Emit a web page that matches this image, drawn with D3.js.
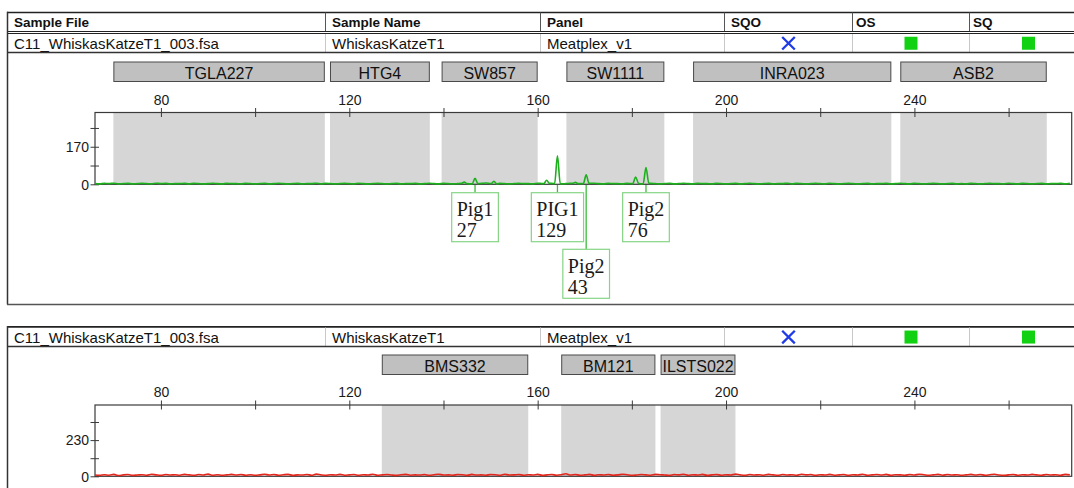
<!DOCTYPE html>
<html>
<head>
<meta charset="utf-8">
<script src="https://cdn.jsdelivr.net/npm/d3@7"></script>
<style>
  html, body { margin: 0; padding: 0; background: #fff; }
  svg { display: block; }
</style>
</head>
<body>
<svg id="chart" width="1074" height="488"></svg>
<script>
// ---- sample table ----
const headerCols = ["Sample File", "Sample Name", "Panel", "SQO", "OS", "SQ"];
const sampleFile = "C11_WhiskasKatzeT1_003.fsa";
const sampleName = "WhiskasKatzeT1";
const panelName = "Meatplex_v1";

// ---- size axis (bp) ----
const sizeDomain = [66, 273.4];
const sizeTicks = [80, 100, 120, 140, 160, 180, 200, 220, 240, 260];
const sizeTickLabels = [80, 120, 160, 200, 240];

// ---- dye 1 (green) ----
const topBinNames = ["TGLA227", "HTG4", "SW857", "SW1111", "INRA023", "ASB2"];
const topBinStart = [69.9, 115.9, 139.6, 166.1, 193.0, 237.0];
const topBinEnd   = [114.8, 137.1, 160.0, 186.9, 235.1, 268.1];
const topMax = 325;
const topYTicks = [0, 85, 170, 255];
const topYLabels = [0, 170];
const alleleNames  = ["Pig1", "PIG1", "Pig2", "Pig2"];
const allelePos    = [146.7, 164.2, 170.3, 183.0];
const alleleHeight = [27, 129, 43, 76];
const minorPeakPos    = [144.4, 150.7, 161.9, 168.0, 180.8];
const minorPeakHeight = [10, 14, 18, 9, 33];
// baseline signal, one value per bp starting at 66 bp
const topNoise = [
  3,2,4,3,5,2,3,4,2,3, 4,3,2,5,3,4,2,3,3,4,
  2,4,3,2,3,5,3,2,4,3, 3,2,4,3,2,3,4,2,3,5,
  3,2,3,4,2,3,3,5,2,4, 3,2,3,4,3,2,5,3,2,3,
  4,3,2,3,4,2,3,3,4,2, 3,5,3,2,4,3,2,3,4,3,
  2,3,4,6,3,2,4,3,2,3, 4,3,3,2,5,3,2,4,3,2,
  3,4,2,3,3,4,5,3,2,4, 3,3,2,4,3,5,2,3,4,3,
  2,3,4,2,3,5,3,2,4,3, 3,2,4,3,2,3,4,2,3,5,
  3,2,3,4,2,3,3,5,2,4, 3,2,3,4,3,2,5,3,2,3,
  4,3,2,3,4,2,3,3,4,2, 3,5,3,2,4,3,2,3,4,3,
  2,3,4,2,3,2,4,3,2,3, 4,3,3,2,5,3,2,4,3,2,
  3,4,2,3,3,4,2,5
];

// ---- dye 2 (red) ----
const bottomBinNames = ["BMS332", "BM121", "ILSTS022"];
const bottomBinStart = [126.9, 165.0, 186.1];
const bottomBinEnd   = [158.0, 185.0, 202.0];
const bottomMax = 453;
const bottomYTicks = [0, 115, 230, 345];
const bottomYLabels = [0, 230];
const bottomNoise = [
  8,6,10,7,12,5,9,11,6,8, 10,7,13,9,6,11,8,10,7,12,
  9,6,11,8,14,7,10,6,9,12, 8,11,7,10,6,9,13,8,11,7,
  10,12,6,9,8,11,7,14,9,6, 10,8,12,7,9,11,6,10,8,13,
  7,9,11,8,6,10,12,7,9,8, 11,6,10,13,8,9,7,11,10,6,
  12,8,9,7,11,10,6,13,8,9, 11,7,10,8,12,6,9,11,7,10,
  16,8,11,7,9,12,6,10,8,11, 7,9,13,10,6,8,11,9,7,12,
  10,8,6,11,9,13,7,10,8,12, 6,9,11,7,10,8,14,9,6,11,
  8,10,7,12,9,6,11,8,10,7, 13,9,11,6,10,8,12,7,9,11,
  6,10,8,13,7,9,11,8,12,6, 10,9,7,11,8,13,10,6,9,12,
  7,11,8,10,6,9,12,8,11,7, 10,13,8,6,9,11,7,10,8,12,
  9,7,11,8,10,6,12,9
];

// ------------------------------------------------------------------
const svg = d3.select("#chart");
const W = 1074;
const SANS = "'Liberation Sans', Arial, sans-serif";
const SERIF = "'Liberation Serif', 'Times New Roman', serif";

const colX = [7.5, 325.5, 540.5, 724.5, 852.5, 969.5];
const colTextX = [14, 332, 547, 731, 856, 973];

const x = d3.scaleLinear().domain(sizeDomain).range([95, 1071.7]);

function hline(g, yy, x1, x2, stroke, w) {
  g.append("line").attr("x1", x1).attr("x2", x2).attr("y1", yy).attr("y2", yy)
    .attr("stroke", stroke).attr("stroke-width", w);
}
function vline(g, xx, y1, y2, stroke, w) {
  g.append("line").attr("x1", xx).attr("x2", xx).attr("y1", y1).attr("y2", y2)
    .attr("stroke", stroke).attr("stroke-width", w);
}

// data row: file, name, panel, SQO cross, OS/SQ flags
function dataRow(g, rTop, rBottom) {
  const base = rBottom - 3.6;
  [sampleFile, sampleName, panelName].forEach((t, i) => {
    g.append("text").attr("x", colTextX[i]).attr("y", base)
      .attr("font-family", SANS).attr("font-size", 15).attr("fill", "#111").text(t);
  });
  for (let i = 1; i < colX.length; i++) vline(g, colX[i], rTop, rBottom, "#c8c8c8", 1);
  const cy = (rTop + rBottom) / 2;
  const cx = (colX[3] + colX[4]) / 2;
  const s = 6.3;
  g.append("path")
    .attr("d", `M${cx - s},${cy - s}L${cx + s},${cy + s}M${cx + s},${cy - s}L${cx - s},${cy + s}`)
    .attr("stroke", "#1f3be6").attr("stroke-width", 2.3).attr("fill", "none");
  const flagCx = [(colX[4] + colX[5]) / 2, colX[5] + 59];
  flagCx.forEach(fx => {
    g.append("rect").attr("x", fx - 6.5).attr("y", cy - 6.5).attr("width", 13).attr("height", 13)
      .attr("fill", "#12d012");
  });
}

// electropherogram panel
function drawPanel(opts) {
  const g = svg.append("g");
  const { binTop, plotTop, plotBottom, binNames, binStart, binEnd, yMax, yTicks, yLabels,
          noise, peaks, color } = opts;
  const y = d3.scaleLinear().domain([0, yMax]).range([plotBottom, plotTop]);

  // bin header boxes
  binNames.forEach((n, i) => {
    const x0 = x(binStart[i]), x1 = x(binEnd[i]);
    g.append("rect").attr("x", x0 + 0.5).attr("y", binTop + 0.5)
      .attr("width", x1 - x0 - 1).attr("height", 19.5)
      .attr("fill", "#c0c0c0").attr("stroke", "#4a4a4a").attr("stroke-width", 1);
    g.append("text").attr("x", (x0 + x1) / 2).attr("y", binTop + 17)
      .attr("text-anchor", "middle").attr("font-family", SANS).attr("font-size", 16)
      .attr("fill", "#111").text(n);
  });

  // bin shading inside plot
  binNames.forEach((n, i) => {
    g.append("rect").attr("x", x(binStart[i])).attr("y", plotTop)
      .attr("width", x(binEnd[i]) - x(binStart[i])).attr("height", plotBottom - plotTop)
      .attr("fill", "#d6d6d6");
  });

  // plot frame
  g.append("rect").attr("x", x.range()[0]).attr("y", plotTop)
    .attr("width", x.range()[1] - x.range()[0]).attr("height", plotBottom - plotTop)
    .attr("fill", "none").attr("stroke", "#3a3a3a").attr("stroke-width", 1.2);

  // size axis on top edge
  const xAxis = d3.axisTop(x).tickValues(sizeTicks).tickSize(0)
    .tickFormat(d => sizeTickLabels.includes(d) ? d : "");
  const ax = g.append("g").attr("transform", `translate(0,${plotTop})`).call(xAxis);
  ax.select(".domain").remove();
  ax.selectAll("text").attr("font-family", SANS).attr("font-size", 14)
    .attr("fill", "#1a1a1a").attr("dy", 0).attr("y", -8);
  ax.selectAll(".tick").append("line").attr("y1", -4.5).attr("y2", 4.5)
    .attr("stroke", "#3a3a3a").attr("stroke-width", 1);

  // signal axis on left edge
  const yAxis = d3.axisLeft(y).tickValues(yTicks).tickSize(0)
    .tickFormat(d => yLabels.includes(d) ? d : "");
  const ay = g.append("g").attr("transform", `translate(${x.range()[0]},0)`).call(yAxis);
  ay.select(".domain").remove();
  ay.selectAll("text").attr("font-family", SANS).attr("font-size", 14)
    .attr("fill", "#1a1a1a").attr("x", -6).attr("dy", "0.34em");
  ay.selectAll(".tick").append("line").attr("x1", -4.5).attr("x2", 4)
    .attr("stroke", "#3a3a3a").attr("stroke-width", 1);

  // trace: baseline samples plus peak apices
  const start = sizeDomain[0];
  const baseAt = p => noise[Math.max(0, Math.min(noise.length - 1, Math.round(p - start)))];
  let pts = noise.map((v, i) => ({ p: start + i, v }))
    .filter(d => !peaks.some(k => Math.abs(d.p - k.pos) < 0.7));
  peaks.forEach(k => {
    pts.push({ p: k.pos - 0.6, v: baseAt(k.pos - 0.6) });
    pts.push({ p: k.pos, v: k.h });
    pts.push({ p: k.pos + 0.6, v: baseAt(k.pos + 0.6) });
  });
  pts = pts.filter(d => d.p <= sizeDomain[1]).sort((a, b) => a.p - b.p);
  const line = d3.line().x(d => x(d.p)).y(d => y(d.v)).curve(d3.curveMonotoneX);
  g.append("path").datum(pts).attr("d", line)
    .attr("fill", "none").attr("stroke", color).attr("stroke-width", 1.6)
    .attr("stroke-linejoin", "round");

  return { g, y };
}

// ---- top table ----
const tbl = svg.append("g");
hline(tbl, 12.5, 7, W, "#222", 1.7);
headerCols.forEach((h, i) => {
  tbl.append("text").attr("x", colTextX[i]).attr("y", 27)
    .attr("font-family", SANS).attr("font-size", 13.5).attr("font-weight", "bold")
    .attr("fill", "#111").text(h);
});
for (let i = 1; i < colX.length; i++) vline(tbl, colX[i], 12.5, 31.5, "#555", 1);
hline(tbl, 31.5, 7, W, "#222", 1);
hline(tbl, 33.5, 7, W, "#222", 1);
dataRow(tbl, 34, 52.5);
hline(tbl, 52.5, 7, W, "#333", 1.5);
vline(tbl, 7.5, 11.7, 304.5, "#333", 1.5);
hline(tbl, 304.5, 7, W, "#555", 1.3);

// ---- upper electropherogram ----
const upperPeaks = allelePos.map((p, i) => ({ pos: p, h: alleleHeight[i] }))
  .concat(minorPeakPos.map((p, i) => ({ pos: p, h: minorPeakHeight[i] })));
drawPanel({
  binTop: 61.5, plotTop: 112.5, plotBottom: 184.3,
  binNames: topBinNames, binStart: topBinStart, binEnd: topBinEnd,
  yMax: topMax, yTicks: topYTicks, yLabels: topYLabels,
  noise: topNoise, peaks: upperPeaks, color: "#1cb01c"
});

// allele call labels, stacked when they would collide
const labelG = svg.append("g");
const rowTop = [192.7, 249.3];
const boxH = 49;
const placed = [];
alleleNames.forEach((name, i) => {
  const px = x(allelePos[i]);
  const tmp = labelG.append("g");
  const t1 = tmp.append("text").attr("font-family", SERIF).attr("font-size", 20).text(name);
  const t2 = tmp.append("text").attr("font-family", SERIF).attr("font-size", 20).text(alleleHeight[i]);
  const tw = Math.max(t1.node().getComputedTextLength(), t2.node().getComputedTextLength());
  const bw = tw + 10;
  const bx0 = px - bw / 2, bx1 = px + bw / 2;
  let row = 0;
  while (placed.some(b => b.row === row && !(bx1 + 2 < b.x0 || bx0 - 2 > b.x1))) row++;
  placed.push({ row, x0: bx0, x1: bx1 });
  const by = rowTop[row];
  tmp.insert("line", "text").attr("x1", px).attr("x2", px).attr("y1", 185).attr("y2", by)
    .attr("stroke", "#3dbb3d").attr("stroke-width", 1.3);
  tmp.insert("rect", "text").attr("x", bx0).attr("y", by).attr("width", bw).attr("height", boxH)
    .attr("fill", "#fff").attr("stroke", "#86d486").attr("stroke-width", 1.2);
  t1.attr("x", bx0 + 5).attr("y", by + 23.5).attr("fill", "#1a1a1a");
  t2.attr("x", bx0 + 5).attr("y", by + 44.5).attr("fill", "#1a1a1a");
});

// ---- lower table ----
const tbl2 = svg.append("g");
hline(tbl2, 326.8, 7, W, "#222", 1.7);
dataRow(tbl2, 327.5, 346.6);
hline(tbl2, 346.6, 7, W, "#333", 1.5);
vline(tbl2, 7.5, 326, 488, "#333", 1.5);

// ---- lower electropherogram ----
drawPanel({
  binTop: 354.5, plotTop: 405, plotBottom: 476.3,
  binNames: bottomBinNames, binStart: bottomBinStart, binEnd: bottomBinEnd,
  yMax: bottomMax, yTicks: bottomYTicks, yLabels: bottomYLabels,
  noise: bottomNoise, peaks: [], color: "#e4261c"
});
</script>
</body>
</html>
